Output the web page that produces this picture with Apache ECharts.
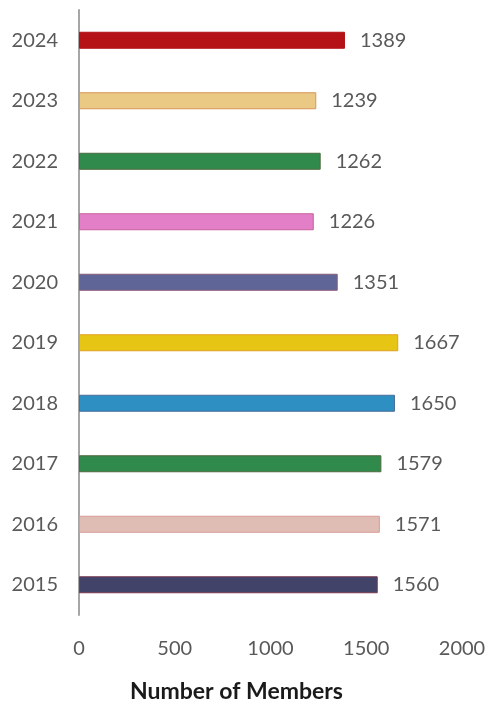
<!DOCTYPE html>
<html>
<head>
<meta charset="utf-8">
<script src="https://cdn.jsdelivr.net/npm/echarts@6/dist/echarts.min.js"></script>
<style>
  html, body { margin: 0; padding: 0; background: #fff; }
  #c1 { width: 491px; height: 707px; }
</style>
</head>
<body>
<div id="c1"></div>
<script>
var years = ['2015', '2016', '2017', '2018', '2019', '2020', '2021', '2022', '2023', '2024'];
var members = [1560, 1571, 1579, 1650, 1667, 1351, 1226, 1262, 1239, 1389];
var barColors = ['#414368', '#dfbdb5', '#2f8a4b', '#2d8fc2', '#e6c514', '#5f6597', '#e27fc7', '#2f8a4b', '#e9c983', '#b41217'];
var barBorders = ['#7a3a50', '#d99a95', '#4f6a3f', '#4a6f9a', '#e0a020', '#8a5a7a', '#c8609a', '#4f6a3f', '#d9955a', '#b41217'];
var xTicks = [0, 500, 1000, 1500, 2000];

var font = 'Lato, "Open Sans", sans-serif';

var chartDom = document.getElementById('c1');
var myChart = echarts.init(chartDom);
var option = {
    animation: false,
    grid: {
        left: 79,
        right: 29,
        top: 10,
        bottom: 92,
        outerBoundsMode: 'none',
        containLabel: false
    },
    xAxis: {
        type: 'value',
        min: xTicks[0],
        max: xTicks[xTicks.length - 1],
        interval: 500,
        axisLine: { show: false },
        axisTick: { show: false },
        splitLine: { show: false },
        axisLabel: {
            margin: 24,
            color: '#595959',
            fontSize: 20,
            fontFamily: font,
            formatter: function (v) { return String(v); }
        },
        name: 'Number of Members',
        nameLocation: 'middle',
        nameGap: 65,
        nameTextStyle: {
            color: '#1a1a1a',
            fontSize: 23,
            fontWeight: 'bold',
            fontFamily: font,
            padding: [0, 68, 0, 0]
        }
    },
    yAxis: {
        type: 'category',
        data: years,
        axisLine: { show: true, lineStyle: { color: '#a6a6a6', width: 2 } },
        axisTick: { show: false },
        axisLabel: {
            margin: 21,
            color: '#595959',
            fontSize: 20,
            fontFamily: font
        }
    },
    series: [
        {
            name: 'Number of Members',
            type: 'bar',
            barWidth: 17,
            data: members.map(function (v, i) {
                return {
                    value: v,
                    itemStyle: {
                        color: barColors[i],
                        borderColor: barBorders[i],
                        borderWidth: 1
                    }
                };
            }),
            label: {
                show: true,
                position: 'right',
                distance: 15,
                color: '#595959',
                fontSize: 20,
                fontFamily: font
            }
        }
    ]
};
myChart.setOption(option);
</script>
</body>
</html>
